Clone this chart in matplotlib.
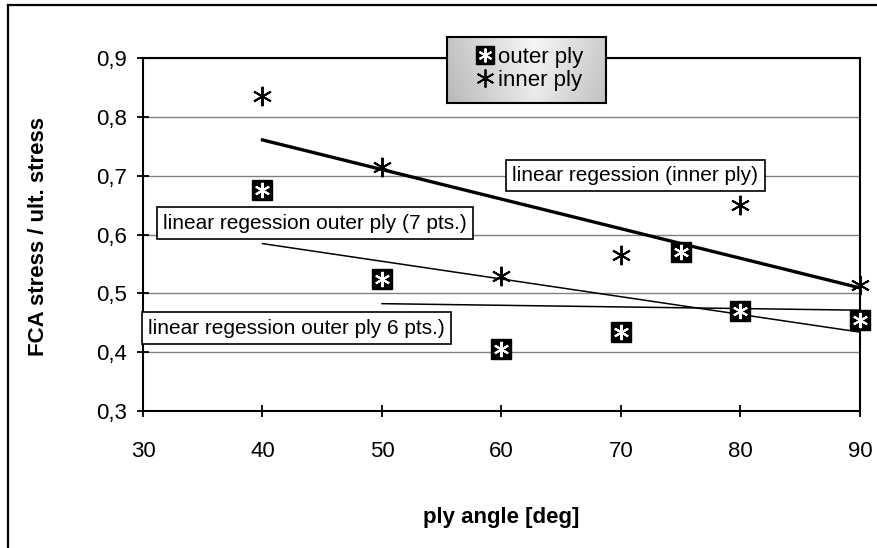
import matplotlib
matplotlib.use('Agg')
import matplotlib.pyplot as plt
import numpy as np
from matplotlib import ticker
from matplotlib.lines import Line2D

plt.rcParams['font.family'] = ['Liberation Sans', 'DejaVu Sans']

# data
angle_outer = [40, 50, 60, 70, 75, 80, 90]
stress_outer = [0.675, 0.525, 0.405, 0.435, 0.57, 0.47, 0.455]
angle_inner = [40, 50, 60, 70, 80, 90]
stress_inner = [0.835, 0.715, 0.53, 0.565, 0.65, 0.515]

W, H = 878, 548
fig = plt.figure(figsize=(W / 100, H / 100), dpi=100)
ax = fig.add_axes([143 / W, 1 - 411 / H, 717 / W, 353 / H])

# regression lines
def fit_line(x, y, x0, x1):
    k, b = np.polyfit(x, y, 1)
    xs = np.array([x0, x1])
    return xs, k * xs + b

xi, yi = fit_line(angle_inner, stress_inner, 40, 90)
ax.plot(xi, yi, color='black', lw=2.4, zorder=3)
xo7, yo7 = fit_line(angle_outer, stress_outer, 40, 90)
ax.plot(xo7, yo7, color='black', lw=1.1, zorder=3)
xo6, yo6 = fit_line(angle_outer[1:], stress_outer[1:], 50, 90)
ax.plot(xo6, yo6, color='black', lw=1.1, zorder=3)

# markers
ast = (6, 2, 0)
ax.plot(angle_outer, stress_outer, 's', color='black', ms=14, zorder=4, clip_on=False)
ax.plot(angle_outer, stress_outer, ls='none', marker=ast, color='white', ms=11, mew=1.5,
        zorder=5, clip_on=False)
ax.plot(angle_inner, stress_inner, ls='none', marker=ast, color='black', ms=14, mew=1.4,
        zorder=5, clip_on=False)

ax.set_xlim(30, 90)
ax.set_ylim(0.3, 0.9)
ax.set_xticks(np.arange(30, 91, 10))
ax.set_yticks(np.arange(0.3, 0.91, 0.1))
ax.yaxis.set_major_formatter(ticker.FuncFormatter(lambda v, p: f'{v:.1f}'.replace('.', ',')))
ax.grid(axis='y', color='#808080', lw=1)
for s in ax.spines.values():
    s.set_linewidth(1.5)
ax.tick_params(direction='inout', length=9, width=1.3, labelsize=16)
ax.tick_params(axis='x', pad=17)
ax.tick_params(axis='y', pad=7)

fig.text(39 / W, 1 - 236 / H, 'FCA stress / ult. stress', rotation=90,
         ha='center', va='center', fontsize=16, fontweight='bold')
fig.text(501 / W, 1 - 518 / H, 'ply angle [deg]',
         ha='center', va='center', fontsize=16, fontweight='bold')

# text boxes
box = dict(boxstyle='square,pad=0.3', fc='white', ec='black', lw=1.2)
ax.text(60.9, 0.700, 'linear regession (inner ply)', ha='left', va='center',
        fontsize=15, bbox=box, zorder=6, clip_on=False)
ax.text(31.7, 0.6195, 'linear regession outer ply (7 pts.)', ha='left', va='center',
        fontsize=15, bbox=box, zorder=6, clip_on=False)
ax.text(30.4, 0.441, 'linear regession outer ply 6 pts.)', ha='left', va='center',
        fontsize=15, bbox=box, zorder=6, clip_on=False)

# legend panel with gray gradient
gax = fig.add_axes([447 / W, 1 - 103 / H, 159 / W, 66 / H], zorder=1)
gx = np.linspace(0, 1, 200)
row = 0.97 - 0.20 * np.abs(gx - 0.55) / 0.55
col = np.linspace(1.0, 0.94, 60)[:, None]
gax.imshow(row[None, :] * col, cmap='gray', vmin=0, vmax=1, aspect='auto',
           extent=[0, 1, 0, 1], origin='upper')
gax.set_xticks([])
gax.set_yticks([])
for s in gax.spines.values():
    s.set_linewidth(1.5)

h_sq = Line2D([], [], ls='none', marker='s', color='black', ms=13)
h_sw = Line2D([], [], ls='none', marker=ast, color='white', ms=10, mew=1.4)
h_in = Line2D([], [], ls='none', marker=ast, color='black', ms=13, mew=1.3)
leg = fig.legend([(h_sq, h_sw), h_in], ['outer ply', 'inner ply'], loc='center',
                 bbox_to_anchor=(530 / W, 1 - 69 / H), frameon=False,
                 fontsize=16, handlelength=0.8, handletextpad=0.2, borderpad=0,
                 labelspacing=0.1, borderaxespad=0)
leg.set_zorder(6)

# outer chart border
fig.add_artist(Line2D([8 / W, 8 / W], [0, 1 - 5 / H], color='black', lw=1.6))
fig.add_artist(Line2D([8 / W, 1], [1 - 5 / H, 1 - 5 / H], color='black', lw=1.6))

fig.savefig('out.png', dpi=100)
